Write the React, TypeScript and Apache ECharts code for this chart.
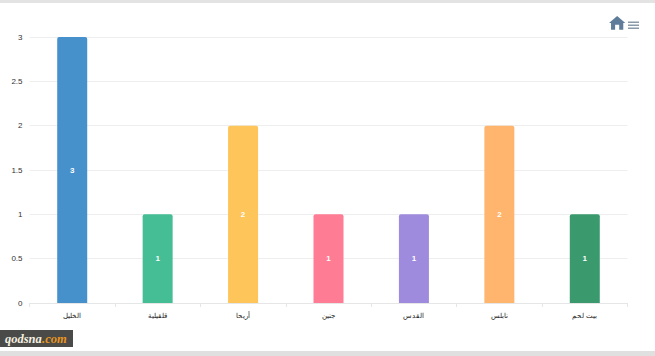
import React, { useEffect, useRef } from "react";
import * as echarts from "echarts";

const categories = ["الخليل", "قلقيلية", "أريحا", "جنين", "القدس", "نابلس", "بيت لحم"];
const values = [3, 1, 2, 1, 1, 2, 1];
const barColors = ["#4690cc", "#45bd95", "#fec55a", "#ff7d94", "#9e8bdd", "#ffb56d", "#3a9a6e"];
const yTicks = ["0", "0.5", "1", "1.5", "2", "2.5", "3"];

const HOME =
  "M12 1 L24 12 L21 12 L21 23 L15 23 L15 15 L9 15 L9 23 L3 23 L3 12 L0 12 Z";
echarts.graphic.registerShape("homeIcon", echarts.graphic.extendPath(HOME as any, {}) as any);

export default function App() {
  const ref = useRef<HTMLDivElement>(null);
  useEffect(() => {
    const chart = echarts.init(ref.current!, undefined, { renderer: "svg" });
    chart.setOption({
      animation: false,
      backgroundColor: "#ffffff",
      grid: { left: 29.5, right: 27.5, top: 37, bottom: 53, containLabel: false },
      xAxis: {
        type: "category",
        data: categories,
        axisLine: { lineStyle: { color: "#e6e6e6", width: 1 } },
        axisTick: { show: true, length: 4, lineStyle: { color: "#e6e6e6" } },
        axisLabel: { color: "#222", fontSize: 7, margin: 9, fontFamily: "Liberation Sans" },
      },
      yAxis: {
        type: "value",
        min: 0,
        max: 3,
        interval: 0.5,
        axisLine: { show: false },
        axisTick: { show: false },
        axisLabel: {
          color: "#333",
          fontSize: 8,
          margin: 7,
          fontFamily: "Liberation Sans",
          formatter: (v: number) => yTicks[Math.round(v * 2)],
        },
        splitLine: { lineStyle: { color: "#eeeeee", width: 1 } },
      },
      series: [
        {
          type: "bar",
          barWidth: 30,
          data: values.map((v, i) => ({
            value: v,
            itemStyle: { color: barColors[i], borderRadius: [2, 2, 0, 0] },
          })),
          label: {
            show: true,
            position: "inside",
            color: "#fff",
            fontSize: 8,
            fontWeight: "bold",
            fontFamily: "Liberation Sans",
          },
        },
      ],
      graphic: [
        { type: "rect", shape: { x: 0, y: 0, width: 655, height: 3 }, style: { fill: "#e3e3e3" }, silent: true },
        { type: "rect", shape: { x: 0, y: 351, width: 655, height: 5 }, style: { fill: "#e0e0e0" }, silent: true },
        { type: "homeIcon", x: 609, y: 15.5, scaleX: 0.68, scaleY: 0.62, style: { fill: "#5f7d9a" }, silent: true },
        { type: "rect", shape: { x: 628, y: 21.5, width: 11, height: 1.5 }, style: { fill: "#8a9aa8" }, silent: true },
        { type: "rect", shape: { x: 628, y: 24.5, width: 11, height: 1.5 }, style: { fill: "#8a9aa8" }, silent: true },
        { type: "rect", shape: { x: 628, y: 27.5, width: 11, height: 1.5 }, style: { fill: "#8a9aa8" }, silent: true },
        { type: "rect", shape: { x: 0, y: 330, width: 73, height: 17 }, style: { fill: "#4a4a48" }, silent: true },
        {
          type: "text",
          x: 5,
          y: 332,
          style: {
            text: "qodsna",
            fill: "#f5f0e0",
            font: "italic bold 12.5px 'Liberation Serif'",
          },
          silent: true,
        },
        {
          type: "text",
          x: 42,
          y: 332,
          style: {
            text: ".com",
            fill: "#e8941e",
            font: "italic bold 12.5px 'Liberation Serif'",
          },
          silent: true,
        },
      ],
    } as any);
    return () => chart.dispose();
  }, []);
  return <div ref={ref} style={{ position: "fixed", left: 0, top: 0, width: 655, height: 356 }} />;
}
